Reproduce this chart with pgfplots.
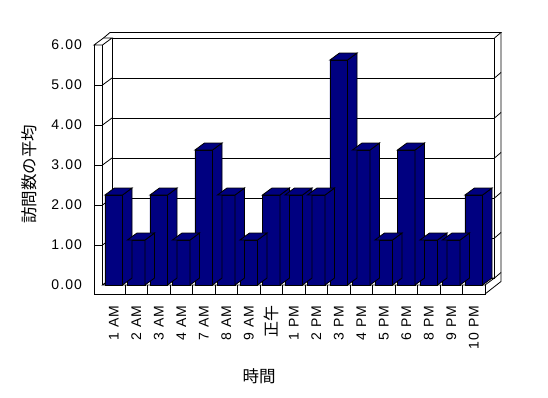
\documentclass[border=0pt]{standalone}
\usepackage{pgfplots}
\usepackage{pgfplotstable}
\pgfplotsset{compat=1.18}
\usepackage{fontspec}
\setmainfont{Liberation Sans}
\newfontfamily\tickfont{Liberation Sans}[LetterSpace=8]
\newfontfamily\cjk{Noto Sans CJK JP}
\definecolor{barnavy}{HTML}{000080}

\pgfplotstableread{
x v
0.5 2.25
1.5 1.125
2.5 2.25
3.5 1.125
4.5 3.375
5.5 2.25
6.5 1.125
7.5 2.25
8.5 2.25
9.5 2.25
10.5 5.625
11.5 3.375
12.5 1.125
13.5 3.375
14.5 1.125
15.5 1.125
16.5 2.25
}\visits

\pgfdeclareplotmark{box3d}{%
  \pgfkeys{/pgf/fpu=false}%
  \pgfmathsetmacro\hh{\rawy*40}%
  \pgfsetlinewidth{0.8pt}%
  \pgfsetfillcolor{barnavy}\pgfsetstrokecolor{black}%
  \pgfpathmoveto{\pgfqpoint{8.8pt}{0pt}}%
  \pgfpathlineto{\pgfqpoint{18.3pt}{7pt}}%
  \pgfpathlineto{\pgfpoint{18.3pt}{7pt-\hh pt}}%
  \pgfpathlineto{\pgfpoint{8.8pt}{-\hh pt}}%
  \pgfpathclose
  \pgfusepath{fill,stroke}%
  \pgfpathmoveto{\pgfqpoint{-8.8pt}{0pt}}%
  \pgfpathlineto{\pgfqpoint{8.8pt}{0pt}}%
  \pgfpathlineto{\pgfqpoint{18.3pt}{7pt}}%
  \pgfpathlineto{\pgfqpoint{0.7pt}{7pt}}%
  \pgfpathclose
  \pgfusepath{fill,stroke}%
}

\begin{document}
\begin{tikzpicture}
\path[use as bounding box] (0pt,0pt) rectangle (548pt,-398pt);
\begin{scope}[x=1pt,y=-1pt,line width=0.8pt,line join=miter]
  % floor top face
  \draw[fill=white] (102.5,285) -- (485,285) -- (494.5,278) -- (112,278) -- cycle;
  % back wall inner edges
  \draw (112,278) -- (112,38);
  \draw (494.5,38) -- (494.5,278);
  % back wall top face
  \draw (103.5,38) -- (110,32.5) -- (501,32.5) -- (494.5,38);
  % back wall right face
  \draw (501,32.5) -- (501,272.5) -- (494.5,278);
  \foreach \k in {1,...,5} \draw (494.5,278-40*\k) -- (501,272.5-40*\k);
  % left wall top face
  \draw (94,45) -- (102.5,45) -- (112,38) -- (103.5,38) -- cycle;
  % left wall inner edge
  \draw (102.5,45) -- (102.5,285);
  % left wall front + floor front
  \draw (94,45) -- (94,294) -- (485,294) -- (485,285);
  % floor right face
  \draw (485,294) -- (501,281.5) -- (501,272.5);
  % slanted grid lines on left wall
  \foreach \k in {0,...,5} \draw (102.5,285-40*\k) -- (112,278-40*\k);
  % ticks across the left wall front
  \foreach \k in {1,...,5} \draw (94,285-40*\k) -- (102.5,285-40*\k);
  % floor front separators
  \foreach \k in {1,...,16} \draw (102.5+22.5*\k,285) -- (102.5+22.5*\k,294);
\end{scope}
\begin{axis}[
  at={(102.5pt,-285pt)}, anchor=south west,
  x=22.5pt, y=40pt,
  xmin=0, xmax=17, ymin=0, ymax=6,
  enlargelimits=false, clip=false,
  axis line style={draw=none}, tick style={draw=none},
  ytick={0,1,2,3,4,5,6},
  xtick={0.5,1.5,2.5,3.5,4.5,5.5,6.5,7.5,8.5,9.5,10.5,11.5,12.5,13.5,14.5,15.5,16.5},
  xticklabels={1 AM,2 AM,3 AM,4 AM,7 AM,8 AM,9 AM,{\cjk\fontsize{16}{18}\selectfont 正午},1 PM,2 PM,3 PM,4 PM,5 PM,6 PM,8 PM,9 PM,10 PM},
  /pgf/number format/assume math mode=true,
  yticklabel style={/pgf/number format/fixed,/pgf/number format/fixed zerofill,/pgf/number format/precision=2,
    anchor=east, xshift=-17pt},
  ticklabel style={font=\tickfont\fontsize{14}{16}\selectfont},
  xticklabel style={yshift=-17pt, rotate=90, anchor=east},
  ymajorgrids,
  major grid style={black, line width=0.8pt, shift={(9.5pt,7pt)}},
  xlabel={時間},
  ylabel={訪問数の平均},
  every axis x label/.style={at={(axis cs:6.96,-2.275)}, anchor=center, font=\cjk\fontsize{16.5}{18}\selectfont},
  every axis y label/.style={at={(axis cs:-3.27,2.775)}, rotate=90, anchor=center, font=\cjk\fontsize{16.5}{18}\selectfont},
]
\addplot[scatter, only marks, mark=box3d,
  visualization depends on={rawy \as \rawy}]
  table[x=x, y=v] {\visits};
\addplot[ybar, bar width=17.6pt, fill=barnavy, draw=black, line width=0.8pt]
  table[x=x, y=v] {\visits};
\end{axis}
\end{tikzpicture}
\end{document}
